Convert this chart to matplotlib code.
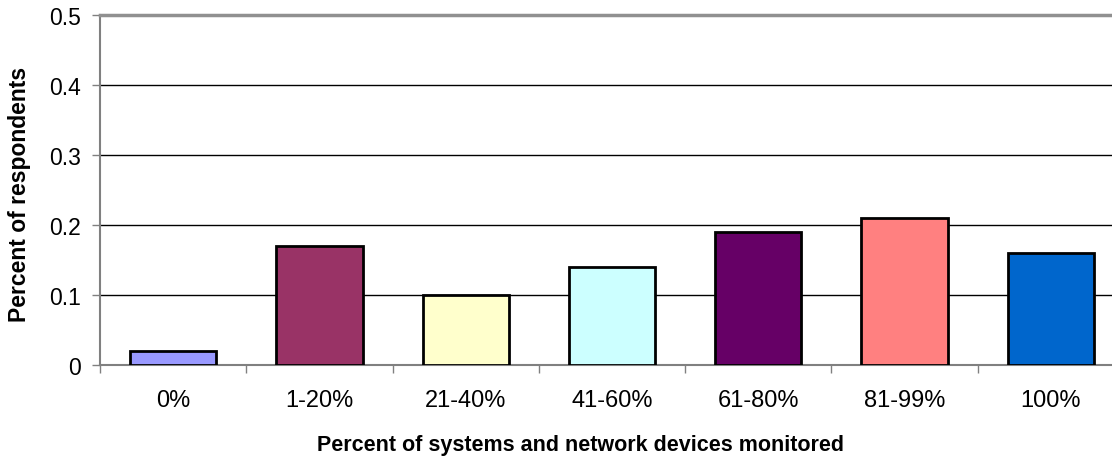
import matplotlib
matplotlib.use('Agg')
import matplotlib.pyplot as plt
import numpy as np

plt.rcParams['font.family'] = ['Liberation Sans', 'DejaVu Sans']

# share of respondents by coverage band
categories = ['0%', '1-20%', '21-40%', '41-60%', '61-80%', '81-99%', '100%']
respondents = [0.02, 0.17, 0.10, 0.14, 0.19, 0.21, 0.16]
bar_colors = ['#9999FF', '#993366', '#FFFFCC', '#CCFFFF', '#660066', '#FF8080', '#0066CC']

fig = plt.figure(figsize=(11.12, 4.6), dpi=100)
# plot area runs a little past the right edge of the figure
ax = fig.add_axes([100 / 1112, 94 / 460, 1024 / 1112, 350 / 460])

x = np.arange(len(categories))
ax.bar(x, respondents, width=0.59, color=bar_colors, edgecolor='black', linewidth=2, zorder=3)

ax.set_xlim(-0.5, len(categories) - 0.5)
ax.set_ylim(0, 0.5)
ax.set_yticks([0, 0.1, 0.2, 0.3, 0.4, 0.5])
ax.set_yticklabels(['0', '0.1', '0.2', '0.3', '0.4', '0.5'], fontsize=16.5)
for y in [0.1, 0.2, 0.3, 0.4]:
    ax.axhline(y, color='black', linewidth=1, zorder=1)

# category labels between the boundary tick marks
ax.set_xticks(x)
ax.set_xticklabels(categories, fontsize=17)
ax.tick_params(axis='x', which='major', length=0, pad=17)
ax.set_xticks(np.arange(len(categories) + 1) - 0.5, minor=True)
ax.tick_params(axis='x', which='minor', length=5.8, width=1, color='#808080', direction='out')
ax.tick_params(axis='y', length=5.8, width=1, color='#808080', direction='out', pad=8)

for side in ['left', 'bottom']:
    ax.spines[side].set_color('#808080')
    ax.spines[side].set_linewidth(1.5)
ax.spines['top'].set_color('#909090')
ax.spines['top'].set_linewidth(2.5)
ax.spines['right'].set_visible(False)

ax.set_xlabel('Percent of systems and network devices monitored', fontsize=15.5, fontweight='bold')
ax.set_ylabel('Percent of respondents', fontsize=16.5, fontweight='bold')
ax.xaxis.set_label_coords(0.469, -0.197)
ax.yaxis.set_label_coords(-0.067, 0.49)

fig.savefig('out.png', dpi=100)
